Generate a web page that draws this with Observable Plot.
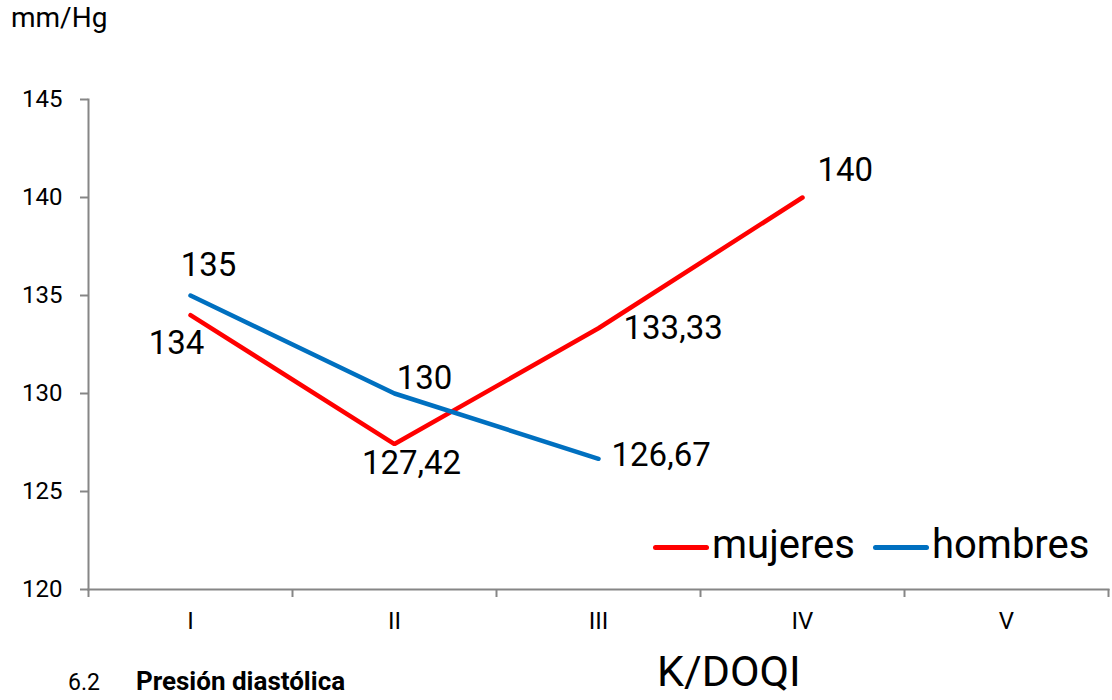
<!DOCTYPE html>
<html>
<head>
<meta charset="utf-8">
<script src="https://cdn.jsdelivr.net/npm/d3@7"></script>
<script src="https://cdn.jsdelivr.net/npm/@observablehq/plot@0.6"></script>
<style>
  html, body { margin: 0; padding: 0; background: #fff; overflow: hidden; }
  body { width: 1112px; height: 700px; position: relative; font-family: Roboto, "Noto Sans", sans-serif; color: #000; }
  #chart { position: absolute; left: 0; top: 0; }
  .unit { position: absolute; left: 11px; top: 4px; font-size: 28px; line-height: 1; }
  .xtitle { position: absolute; left: 657px; top: 650px; font-size: 43px; line-height: 1; white-space: nowrap; }
  .caption { position: absolute; left: 68px; top: 668px; font-size: 26px; line-height: 1; white-space: nowrap; }
  .caption .num { font-size: 23px; }
  .caption b { margin-left: 36px; }
  .legend { position: absolute; left: 653px; top: 525px; font-size: 40px; line-height: 1; display: flex; align-items: center; }
  .legend .item { display: flex; align-items: center; margin-right: 18px; }
  .legend .swatch { width: 56px; height: 5px; border-radius: 3px; margin-right: 3px; position: relative; top: 2px; }
</style>
</head>
<body>
<div id="chart"></div>
<div class="unit">mm/Hg</div>
<div class="legend" id="legend"></div>
<div class="xtitle">K/DOQI</div>
<div class="caption"><span class="num">6.2</span><b>Presión diastólica</b></div>
<script>
// K/DOQI stages on the horizontal axis
const stages = ["I", "II", "III", "IV", "V"];
// Mean pressure (mm/Hg) per stage
const mujeres = [134, 127.42, 133.33, 140];
const hombres = [135, 130, 126.67];
const yTicks = [120, 125, 130, 135, 140, 145];

const seriesNames = ["mujeres", "hombres"];
const seriesColors = ["#FF0000", "#0070C0"];

const rows = [
  ...mujeres.map((v, i) => ({serie: "mujeres", stage: i, value: v})),
  ...hombres.map((v, i) => ({serie: "hombres", stage: i, value: v}))
];
// each stage sits in the middle of its slot on a linear axis
const xc = d => d.stage + 0.5;
const fmt = v => String(v).replace(".", ",");

const pick = (serie, idx) => rows.filter(d => d.serie === serie && idx.includes(d.stage));
const label = (data, opts) => Plot.text(data, {x: xc, y: "value", text: d => fmt(d.value),
  fontSize: 33, fill: "#000", ...opts});

const chart = Plot.plot({
  width: 1112,
  height: 700,
  marginLeft: 88,
  marginRight: 4,
  marginTop: 99,
  marginBottom: 111,
  style: {fontFamily: "Roboto, 'Noto Sans', sans-serif", fontSize: "24px", background: "transparent", overflow: "visible"},
  x: {type: "linear", domain: [0, stages.length]},
  y: {domain: [120, 145]},
  color: {domain: seriesNames, range: seriesColors},
  marks: [
    Plot.axisY({ticks: yTicks, tickSize: 8, tickPadding: 18, stroke: "#868686", strokeWidth: 2,
      fill: "#000", fontSize: 24, label: null}),
    Plot.axisX({ticks: d3.range(stages.length + 1), tickSize: 8, tickFormat: () => "",
      stroke: "#868686", strokeWidth: 2, label: null}),
    Plot.axisX({ticks: d3.range(stages.length).map(i => i + 0.5), tickSize: 0, tickPadding: 22,
      tickFormat: v => stages[Math.round(v - 0.5)], fill: "#000", fontSize: 24, label: null}),
    Plot.frame({anchor: "left", stroke: "#868686", strokeWidth: 2}),
    Plot.frame({anchor: "bottom", stroke: "#868686", strokeWidth: 2}),
    Plot.line(rows, {x: xc, y: "value", z: "serie", stroke: "serie", strokeWidth: 4.5,
      strokeLinecap: "round", strokeLinejoin: "miter"}),
    // value labels, placed around each point
    label(pick("mujeres", [0]), {dx: -14, dy: 28}),
    label(pick("mujeres", [1]), {dx: 17, dy: 19}),
    label(pick("mujeres", [2]), {textAnchor: "start", dx: 25, dy: 0}),
    label(pick("mujeres", [3]), {textAnchor: "start", dx: 15, dy: -27}),
    label(pick("hombres", [0]), {dx: 18, dy: -30}),
    label(pick("hombres", [1]), {dx: 30, dy: -15}),
    label(pick("hombres", [2]), {textAnchor: "start", dx: 13, dy: -3})
  ]
});
document.getElementById("chart").appendChild(chart);

const legend = document.getElementById("legend");
seriesNames.forEach((name, i) => {
  const item = document.createElement("div");
  item.className = "item";
  item.innerHTML = `<span class="swatch" style="background:${seriesColors[i]}"></span><span>${name}</span>`;
  legend.appendChild(item);
});
</script>
</body>
</html>
